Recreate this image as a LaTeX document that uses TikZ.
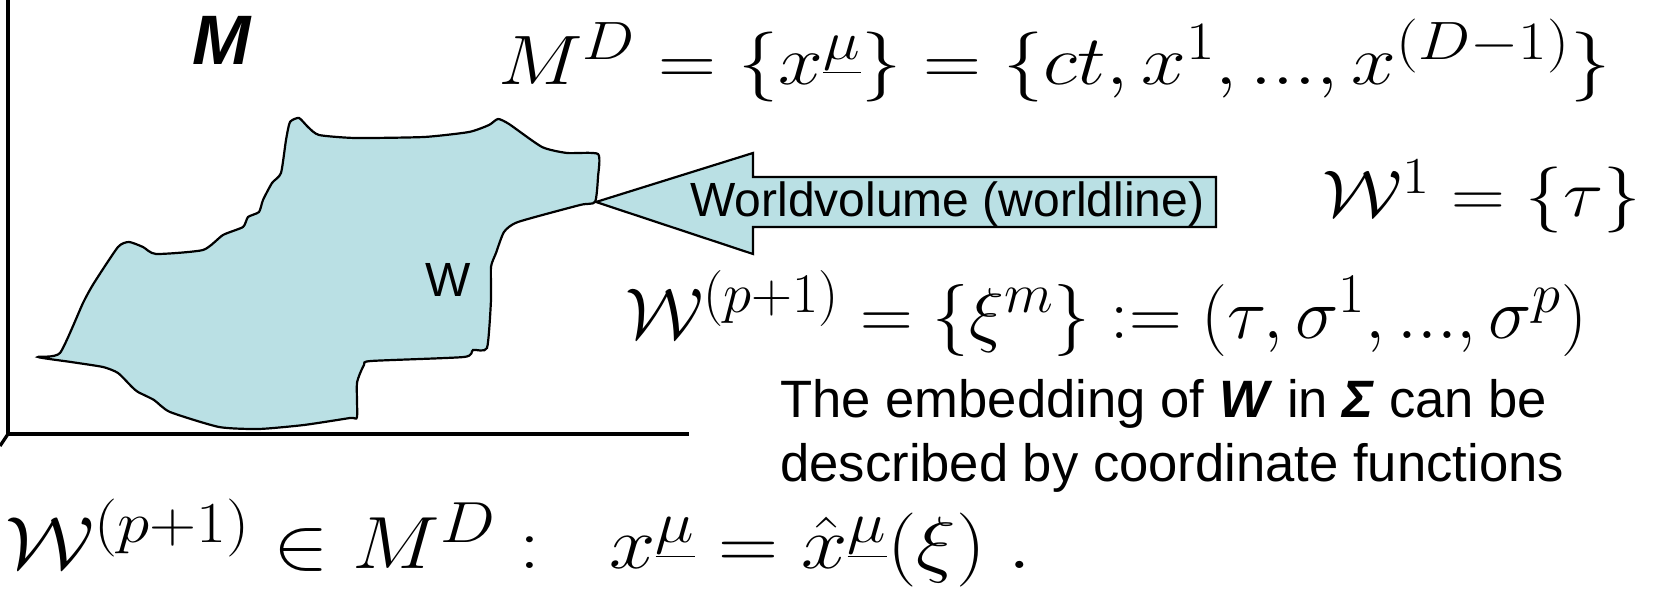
\RequirePackage{fix-cm}
\documentclass[tikz,border=0pt]{standalone}
\usepackage[no-math]{fontspec}
\usepackage{graphicx}
\setmainfont{Liberation Sans}
\DeclareMathSizes{33}{33}{26}{19}
\DeclareMathSizes{35}{35}{27}{20}
\DeclareMathSizes{36}{36}{28}{21}
\DeclareMathSizes{37}{37}{29}{21}
\definecolor{wfill}{RGB}{186,224,228}
\begin{document}
\begin{tikzpicture}[x=0.5pt,y=-0.5pt,
  axisline/.style={line width=1.6pt},
  blobshape/.style={fill=wfill, draw=black, line width=1.1pt},
  mathlbl/.style={anchor=base west, inner sep=0pt},
  textlbl/.style={anchor=base west, inner sep=0pt, font=\fontsize{26.3}{31}\selectfont}]
\useasboundingbox (0,0) rectangle (1661,592);
% axes
\draw[axisline] (8,0) -- (8,434) -- (689,434);
\draw[axisline] (8,434) -- (0,446);
% blob
\draw[blobshape] plot[smooth cycle, tension=0.35] coordinates {
 (38,357) (60,353) (83,303) (94,283) (118,247) (129,242) (143,247) (156,254)
 (203,250) (223,235) (243,227) (248,217) (259,212) (263,200) (272,183) (281,173)
 (286,140) (290,122) (299,118) (308,127) (319,135) (355,138) (424,137) (469,132)
 (489,125) (498,119) (509,124) (542,147) (567,153) (598,154) (598,177) (595,202)
 (580,205) (518,222) (504,232) (496,253) (491,267) (491,300) (487,348) (473,350)
 (464,357) (371,361) (364,365) (357,383) (357,417) (350,418) (304,425) (259,429)
 (219,427) (170,412) (154,400) (138,392) (132,387) (118,373) (103,367) (71,362)};
\node[anchor=center, inner sep=0pt, font=\fontsize{24}{28}\selectfont] (wlabel) at (448,280) {W};
\node[anchor=center, inner sep=0pt, font=\fontsize{35}{40}\selectfont\bfseries\itshape] (mlabel) at (222,40) {M};
% arrow
\coordinate (tip) at (596,202);
\draw[fill=wfill, draw=black, line width=1.1pt] (tip) -- (753,153) -- (753,177) -- (1216,177)
  -- (1216,227) -- (753,227) -- (753,254) -- cycle;
\node[anchor=base west, inner sep=0pt, font=\fontsize{24}{28}\selectfont] (arrowtext) at (690,217) {Worldvolume (worldline)};
% formulas
\node[mathlbl, font=\fontsize{35}{40}\selectfont] (eqM) at (498,85)
  {\resizebox{556pt}{\height}{$M^D=\{x^{\underline{\mu}}\}=\{ct,x^1,...,x^{(D-1)}\}$}};
\node[mathlbl, font=\fontsize{33}{38}\selectfont] (eqW1) at (1322,217)
  {\resizebox{159pt}{\height}{$\mathcal{W}^1=\{\tau\}$}};
\node[mathlbl, font=\fontsize{36}{40}\selectfont] (eqWp) at (625,339)
  {\resizebox{481pt}{\height}{$\mathcal{W}^{(p+1)}=\{\xi^m\}:=(\tau,\sigma^1,...,\sigma^p)$}};
\node[textlbl] (txt1) at (780,418) {The embedding of \textbf{\textit{W}} in \textbf{\textit{Σ}} can be};
\node[textlbl] (txt2) at (780,482) {described by coordinate functions};
\node[mathlbl, font=\fontsize{37}{42}\selectfont] (eqemb) at (5,569)
  {\resizebox{513pt}{\height}{$\mathcal{W}^{(p+1)}\in M^D:\;\; x^{\underline{\mu}}=\hat{x}^{\underline{\mu}}(\xi)\ .$}};
\end{tikzpicture}
\end{document}
